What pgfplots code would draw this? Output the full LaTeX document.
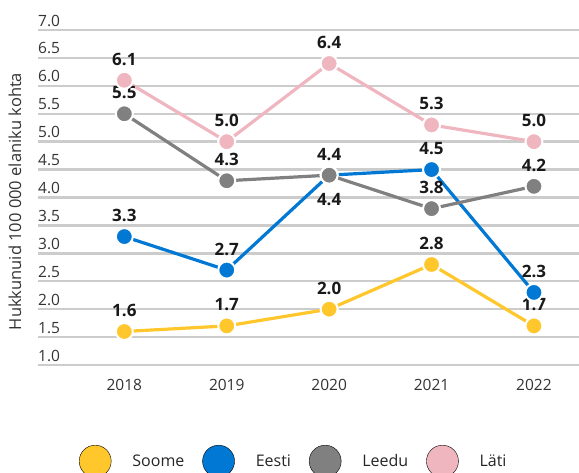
\documentclass[border=0pt]{standalone}
\usepackage{fontspec}
\setmainfont{Open Sans}
\usepackage{pgfplots}
\usepackage{pgfplotstable}
\pgfplotsset{compat=1.18}

\definecolor{soome}{HTML}{FFC72C}
\definecolor{eesti}{HTML}{0078D4}
\definecolor{leedu}{HTML}{808080}
\definecolor{lati}{HTML}{F0B6C0}
\definecolor{gridc}{HTML}{CCCCCC}
\definecolor{txt}{HTML}{333333}

% x y label offset (pt)
\pgfplotstableread{
x y d
2018 1.6 21
2019 1.7 21
2020 2.0 21
2021 2.8 21
2022 1.7 21
}\soome
\pgfplotstableread{
x y d
2018 3.3 21
2019 2.7 21
2020 4.4 -24
2021 4.5 21
2022 2.3 21
}\eesti
\pgfplotstableread{
x y d
2018 5.5 21
2019 4.3 21
2020 4.4 21
2021 3.8 21
2022 4.2 21
}\leedu
\pgfplotstableread{
x y d
2018 6.1 21
2019 5.0 21
2020 6.4 21
2021 5.3 21
2022 5.0 21
}\lati

\pgfplotsset{
  series/.style={line width=3.2pt, color=#1, mark=*, mark size=8.5pt,
    mark options={fill=#1, draw=white, line width=2pt}, forget plot},
}

\begin{document}
\begin{tikzpicture}
  \begin{axis}[
      scale only axis,
      width=541pt, height=335pt,
      xmin=2017.157, xmax=2022.44,
      ymin=1, ymax=7,
      ytick distance=0.5,
      xtick={2018,2019,2020,2021,2022},
      /pgf/number format/assume math mode=true,
      xticklabel={\pgfmathprintnumber[1000 sep={}]{\tick}},
      yticklabel={\pgfmathprintnumber[fixed,fixed zerofill,precision=1]{\tick}},
      axis line style={draw=none},
      major tick length=0pt,
      ymajorgrids,
      grid style={line width=2.5pt, color=gridc},
      yticklabel style={anchor=south west, inner sep=0pt, yshift=3.5pt,
        font=\fontsize{15.5}{18}\selectfont, text=txt},
      xticklabel style={anchor=center, yshift=-20pt,
        font=\fontsize{15.5}{18}\selectfont, text=txt},
      ylabel={Hukkunuid 100 000 elaniku kohta},
      ylabel style={at={(axis description cs:0,0.5)}, anchor=center,
        yshift=23pt, xshift=-4pt, font=\fontsize{16.5}{19}\selectfont, text=txt},
      clip=false,
      nodes near coords={\pgfmathprintnumber[fixed,fixed zerofill,precision=1]{\pgfplotspointmeta}},
      visualization depends on={\thisrow{d} \as \dy},
      every node near coord/.append style={anchor=center, inner sep=0pt,
        yshift=\dy pt, font=\fontsize{17}{20}\selectfont\bfseries, text=black!90},
      legend columns=4,
      legend image code/.code={\fill[#1] (0pt,0pt) circle (16pt);},
      legend style={draw=none, fill=none, inner sep=0pt, outer sep=0pt,
        at={(axis description cs:0,0)}, anchor=north west,
        xshift=41pt, yshift=-80pt,
        font=\fontsize{16}{19}\selectfont,
        nodes={inner sep=0pt, text=black!85},
        /tikz/every odd column/.append style={column sep=21pt},
        /tikz/every even column/.append style={column sep=18pt}},
    ]
    \addplot[series=soome] table[x=x, y=y] {\soome};
    \addplot[series=eesti] table[x=x, y=y] {\eesti};
    \addplot[series=leedu] table[x=x, y=y] {\leedu};
    \addplot[series=lati] table[x=x, y=y] {\lati};

    \addlegendimage{fill=soome}\addlegendentry{Soome}
    \addlegendimage{fill=eesti}\addlegendentry{Eesti}
    \addlegendimage{fill=leedu}\addlegendentry{Leedu}
    \addlegendimage{fill=lati}\addlegendentry{Läti}
  \end{axis}
  \pgfresetboundingbox
  \path[use as bounding box] (-38pt,-108pt) rectangle (541pt,365pt);
\end{tikzpicture}
\end{document}
